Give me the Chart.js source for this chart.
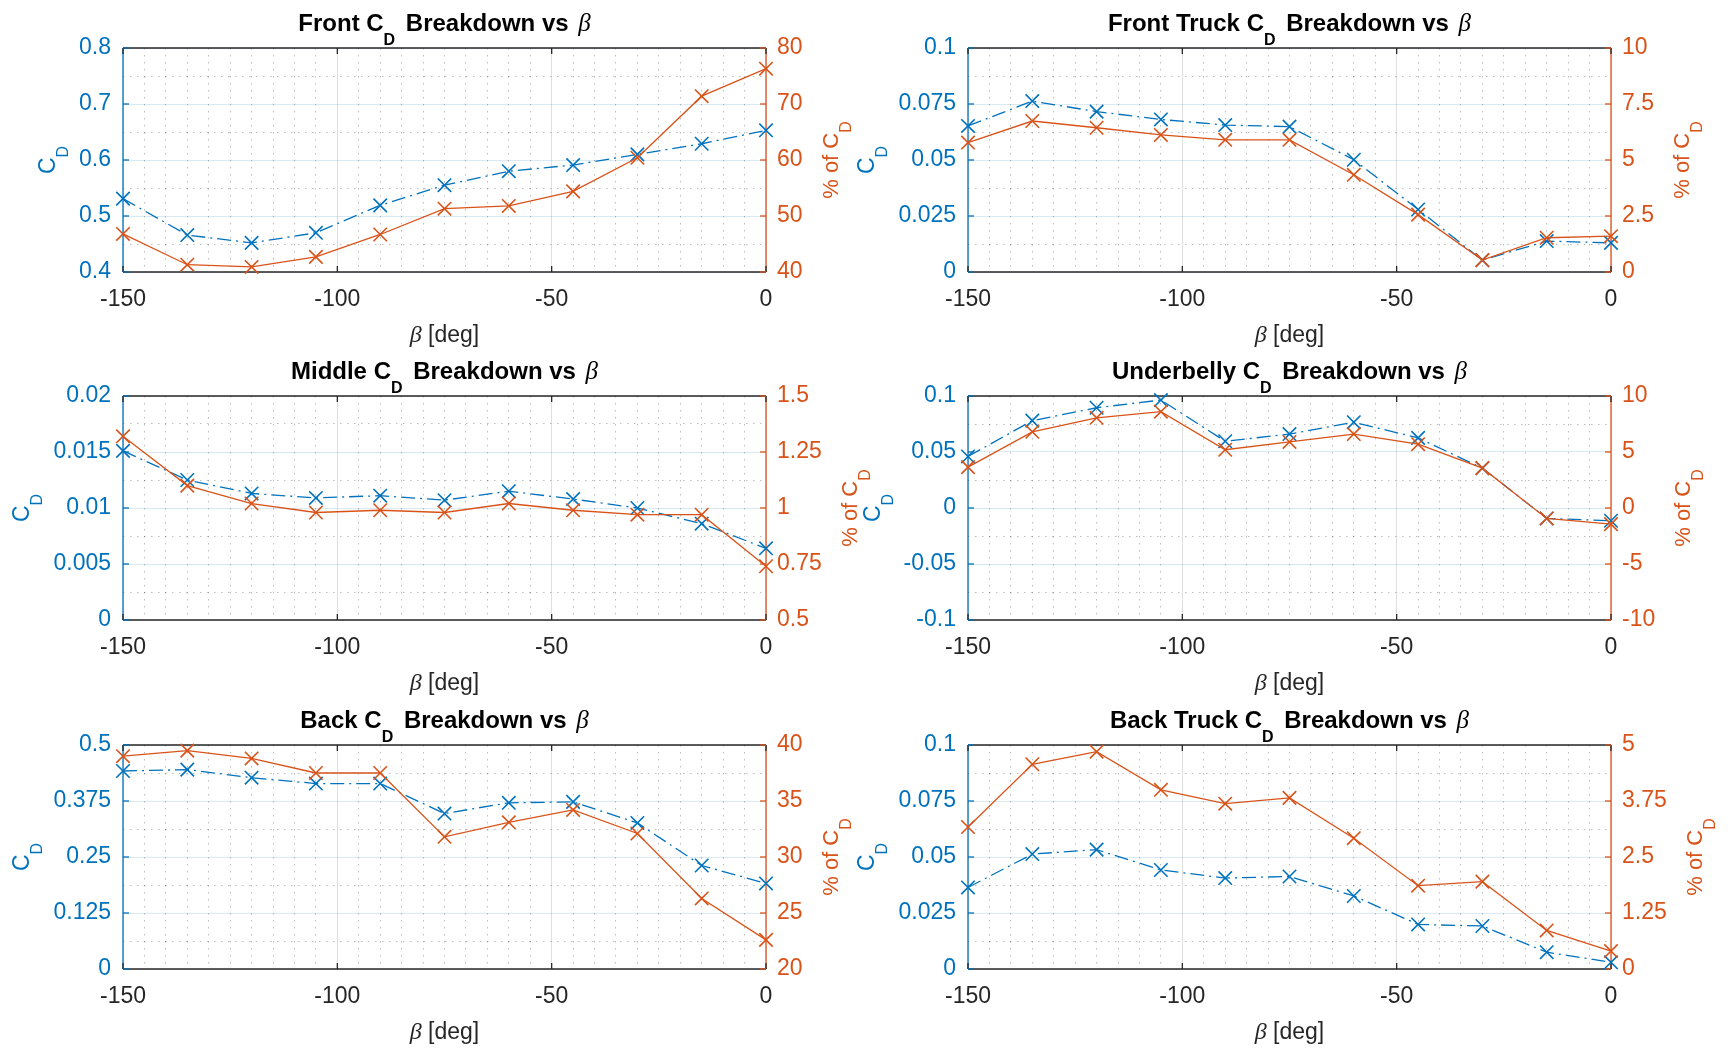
<!DOCTYPE html>
<html>
<head>
<meta charset="utf-8">
<script src="https://cdn.jsdelivr.net/npm/chart.js@4.4.1/dist/chart.umd.min.js"></script>
<style>
  body { margin: 0; background: #fff; width: 1728px; height: 1048px; position: relative; overflow: hidden; }
  canvas { position: absolute; }
</style>
</head>
<body>
<script>
// sideslip angles and x tick labels
var beta = [-150, -135, -120, -105, -90, -75, -60, -45, -30, -15, 0];
var betaTicks = ["-150", "-100", "-50", "0"];

// C_D (left axis) and % of total C_D (right axis) for each part
var frontCd = [0.531, 0.466, 0.452, 0.470, 0.519, 0.555, 0.580, 0.591, 0.610, 0.629, 0.653];
var frontPct = [46.8, 41.3, 40.9, 42.7, 46.7, 51.3, 51.8, 54.4, 60.4, 71.4, 76.3];
var frontTruckCd = [0.0652, 0.0763, 0.0716, 0.0681, 0.0656, 0.0649, 0.0501, 0.0279, 0.0053, 0.0138, 0.0130];
var frontTruckPct = [5.78, 6.74, 6.44, 6.12, 5.90, 5.90, 4.34, 2.56, 0.53, 1.53, 1.60];
var middleCd = [0.0151, 0.0125, 0.0113, 0.0109, 0.0111, 0.0107, 0.0115, 0.0108, 0.0100, 0.0086, 0.0064];
var middlePct = [1.32, 1.10, 1.02, 0.98, 0.99, 0.98, 1.02, 0.99, 0.97, 0.97, 0.74];
var underbellyCd = [0.046, 0.078, 0.0895, 0.0964, 0.0596, 0.066, 0.0766, 0.0626, 0.0356, -0.0093, -0.0114];
var underbellyPct = [3.65, 6.8, 8.05, 8.6, 5.2, 5.9, 6.6, 5.7, 3.56, -0.93, -1.44];
var backCd = [0.442, 0.445, 0.427, 0.414, 0.414, 0.347, 0.371, 0.373, 0.326, 0.231, 0.191];
var backPct = [39.0, 39.5, 38.8, 37.5, 37.5, 31.8, 33.1, 34.2, 32.1, 26.3, 22.6];
var backTruckCd = [0.0364, 0.0513, 0.0533, 0.0442, 0.0406, 0.0413, 0.0326, 0.0199, 0.0192, 0.0075, 0.0030];
var backTruckPct = [3.17, 4.57, 4.85, 4.00, 3.69, 3.82, 2.92, 1.86, 1.95, 0.86, 0.40];

// y tick labels
var frontCdTicks = ["0.4", "0.5", "0.6", "0.7", "0.8"];
var frontPctTicks = ["40", "50", "60", "70", "80"];
var truckCdTicks = ["0", "0.025", "0.05", "0.075", "0.1"];
var frontTruckPctTicks = ["0", "2.5", "5", "7.5", "10"];
var middleCdTicks = ["0", "0.005", "0.01", "0.015", "0.02"];
var middlePctTicks = ["0.5", "0.75", "1", "1.25", "1.5"];
var underbellyCdTicks = ["-0.1", "-0.05", "0", "0.05", "0.1"];
var underbellyPctTicks = ["-10", "-5", "0", "5", "10"];
var backCdTicks = ["0", "0.125", "0.25", "0.375", "0.5"];
var backPctTicks = ["20", "25", "30", "35", "40"];
var backTruckPctTicks = ["0", "1.25", "2.5", "3.75", "5"];

var BLUE = "#0072BD";
var ORANGE = "#D95319";
var DARK = "#262626";
var MINOR = "rgba(38,38,38,0.3)";
var FONT = '"Liberation Sans", Arial, Helvetica, sans-serif';
var SERIF = '"Liberation Serif", "DejaVu Serif", serif';

Chart.defaults.font.family = FONT;

// plot box size and margins around it inside each canvas
var PW = 643, PH = 224;
var L = 115, R = 110, T = 48, B = 80;

var panels = [
  { name: "Front", cd: frontCd, pct: frontPct, cdTicks: frontCdTicks, pctTicks: frontPctTicks, left: 123, top: 48 },
  { name: "Front Truck", cd: frontTruckCd, pct: frontTruckPct, cdTicks: truckCdTicks, pctTicks: frontTruckPctTicks, left: 968, top: 48 },
  { name: "Middle", cd: middleCd, pct: middlePct, cdTicks: middleCdTicks, pctTicks: middlePctTicks, left: 123, top: 396 },
  { name: "Underbelly", cd: underbellyCd, pct: underbellyPct, cdTicks: underbellyCdTicks, pctTicks: underbellyPctTicks, left: 968, top: 396 },
  { name: "Back", cd: backCd, pct: backPct, cdTicks: backCdTicks, pctTicks: backPctTicks, left: 123, top: 745 },
  { name: "Back Truck", cd: backTruckCd, pct: backTruckPct, cdTicks: truckCdTicks, pctTicks: backTruckPctTicks, left: 968, top: 745 },
];

function drawRich(ctx, parts, cx, by, color) {
  var w = 0;
  parts.forEach(function (p) {
    ctx.font = p.font;
    p.w = ctx.measureText(p.t).width;
    w += p.w + (p.gap || 0);
  });
  var x = cx - w / 2;
  ctx.fillStyle = color;
  ctx.textAlign = "left";
  ctx.textBaseline = "alphabetic";
  parts.forEach(function (p) {
    x += p.gap || 0;
    ctx.font = p.font;
    ctx.fillText(p.t, x, by + (p.dy || 0));
    x += p.w;
  });
}

function seg(ctx, x1, y1, x2, y2, color, w) {
  ctx.strokeStyle = color;
  ctx.lineWidth = w;
  ctx.beginPath();
  ctx.moveTo(x1, y1);
  ctx.lineTo(x2, y2);
  ctx.stroke();
}

function maxWidth(ctx, labels) {
  ctx.font = "23px " + FONT;
  var m = 0;
  labels.forEach(function (s) { m = Math.max(m, ctx.measureText(s).width); });
  return m;
}

var decor = {
  id: "decor",
  beforeDatasetsDraw: function (chart) {
    var ctx = chart.ctx, a = chart.chartArea;
    var sx = chart.scales.x, sy = chart.scales.y, sy2 = chart.scales.y2;
    ctx.save();
    seg(ctx, a.left, a.top, a.right, a.top, DARK, 1.3);
    seg(ctx, a.left, a.bottom, a.right, a.bottom, DARK, 1.3);
    seg(ctx, a.left, a.top, a.left, a.bottom, BLUE, 1.3);
    seg(ctx, a.right, a.top, a.right, a.bottom, ORANGE, 1.3);
    sx.ticks.forEach(function (t) {
      var px = sx.getPixelForValue(t.value);
      seg(ctx, px, a.bottom, px, a.bottom - 6, DARK, 1.3);
      seg(ctx, px, a.top, px, a.top + 6, DARK, 1.3);
    });
    sy.ticks.forEach(function (t) {
      var py = sy.getPixelForValue(t.value);
      seg(ctx, a.left, py, a.left + 6, py, BLUE, 1.3);
    });
    sy2.ticks.forEach(function (t) {
      var py = sy2.getPixelForValue(t.value);
      seg(ctx, a.right, py, a.right - 6, py, ORANGE, 1.3);
    });
    ctx.restore();
  },
  afterDraw: function (chart, args, o) {
    var ctx = chart.ctx, a = chart.chartArea;
    var cx = (a.left + a.right) / 2, cy = (a.top + a.bottom) / 2;
    ctx.save();
    // title
    drawRich(ctx, [
      { t: o.name + " C", font: "bold 24px " + FONT },
      { t: "D", font: "bold 16px " + FONT, dy: 14 },
      { t: " Breakdown vs ", font: "bold 24px " + FONT, gap: 4 },
      { t: "\u03B2", font: "italic 25px " + SERIF, gap: 3 },
    ], cx, a.top - 17, "#000");
    // x label
    drawRich(ctx, [
      { t: "\u03B2", font: "italic 24px " + SERIF },
      { t: " [deg]", font: "23px " + FONT },
    ], cx, a.bottom + 70, DARK);
    // left label
    var bl = a.left - 12 - maxWidth(ctx, o.cdTicks) - 24;
    ctx.save();
    ctx.translate(bl, cy);
    ctx.rotate(-Math.PI / 2);
    drawRich(ctx, [
      { t: "C", font: "23px " + FONT },
      { t: "D", font: "16px " + FONT, dy: 13 },
    ], 0, 0, BLUE);
    ctx.restore();
    // right label
    var br = a.right + 11 + maxWidth(ctx, o.pctTicks) + 35;
    ctx.save();
    ctx.translate(br, cy);
    ctx.rotate(-Math.PI / 2);
    drawRich(ctx, [
      { t: "% of C", font: "22px " + FONT },
      { t: "D", font: "16px " + FONT, dy: 13 },
    ], 0, 0, ORANGE);
    ctx.restore();
    ctx.restore();
  },
};

function makePanel(p) {
  var cdVals = p.cdTicks.map(Number);
  var pctVals = p.pctTicks.map(Number);
  var canvas = document.createElement("canvas");
  canvas.width = PW + L + R;
  canvas.height = PH + T + B;
  canvas.style.left = p.left - L + "px";
  canvas.style.top = p.top - T + "px";
  document.body.appendChild(canvas);

  new Chart(canvas, {
    type: "line",
    data: {
      datasets: [
        {
          label: "CD",
          data: beta.map(function (b, i) { return { x: b, y: p.cd[i] }; }),
          xAxisID: "x",
          yAxisID: "y",
          borderColor: BLUE,
          backgroundColor: BLUE,
          borderWidth: 1.3,
          borderDash: [14, 5, 2, 5],
          pointStyle: "crossRot",
          pointRadius: 9.5,
          pointBorderWidth: 1.6,
          pointBorderColor: BLUE,
          clip: false,
          order: 2,
        },
        {
          label: "% of CD",
          data: beta.map(function (b, i) { return { x: b, y: p.pct[i] }; }),
          xAxisID: "x",
          yAxisID: "y2",
          borderColor: ORANGE,
          backgroundColor: ORANGE,
          borderWidth: 1.3,
          pointStyle: "crossRot",
          pointRadius: 9.5,
          pointBorderWidth: 1.6,
          pointBorderColor: ORANGE,
          clip: false,
          order: 1,
        },
      ],
    },
    options: {
      responsive: false,
      animation: false,
      events: [],
      layout: { padding: { top: T, left: 0, right: 0, bottom: 0 } },
      plugins: {
        legend: { display: false },
        tooltip: { enabled: false },
        decor: { name: p.name, cdTicks: p.cdTicks, pctTicks: p.pctTicks },
      },
      scales: {
        x: {
          type: "linear",
          position: "bottom",
          min: -150,
          max: 0,
          afterBuildTicks: function (s) { s.ticks = betaTicks.map(function (t) { return { value: Number(t) }; }); },
          afterFit: function (s) { s.height = B; },
          ticks: {
            color: DARK, font: { size: 23 }, padding: 14, maxRotation: 0, autoSkip: false,
            callback: function (v, i) { return betaTicks[i]; },
          },
          grid: { color: "rgba(38,38,38,0.15)", drawTicks: false },
          border: { display: false },
        },
        xm: {
          type: "linear",
          position: "bottom",
          min: -150,
          max: 0,
          afterFit: function (s) { s.height = 0; },
          ticks: { display: false, stepSize: 5 },
          grid: {
            color: function (c) { return c.index % 10 ? MINOR : "transparent"; },
            drawTicks: false,
          },
          border: { display: false, dash: [1.5, 5.5] },
        },
        y: {
          type: "linear",
          position: "left",
          min: cdVals[0],
          max: cdVals[cdVals.length - 1],
          afterBuildTicks: function (s) { s.ticks = cdVals.map(function (v) { return { value: v }; }); },
          afterFit: function (s) { s.width = L; },
          ticks: {
            color: BLUE, font: { size: 23 }, padding: 12, autoSkip: false,
            callback: function (v, i) { return p.cdTicks[i]; },
          },
          grid: { color: "rgba(0,114,189,0.15)", drawTicks: false },
          border: { display: false },
        },
        ym: {
          type: "linear",
          position: "left",
          min: cdVals[0],
          max: cdVals[cdVals.length - 1],
          afterFit: function (s) { s.width = 0; },
          ticks: { display: false, stepSize: (cdVals[1] - cdVals[0]) / 2 },
          grid: {
            color: function (c) { return c.index % 2 ? MINOR : "transparent"; },
            drawTicks: false,
          },
          border: { display: false, dash: [1.5, 5.5] },
        },
        y2: {
          type: "linear",
          position: "right",
          min: pctVals[0],
          max: pctVals[pctVals.length - 1],
          afterBuildTicks: function (s) { s.ticks = pctVals.map(function (v) { return { value: v }; }); },
          afterFit: function (s) { s.width = R; },
          ticks: {
            color: ORANGE, font: { size: 23 }, padding: 11, autoSkip: false,
            callback: function (v, i) { return p.pctTicks[i]; },
          },
          grid: { drawOnChartArea: false, drawTicks: false },
          border: { display: false },
        },
      },
    },
    plugins: [decor],
  });
}

panels.forEach(makePanel);
</script>
</body>
</html>
